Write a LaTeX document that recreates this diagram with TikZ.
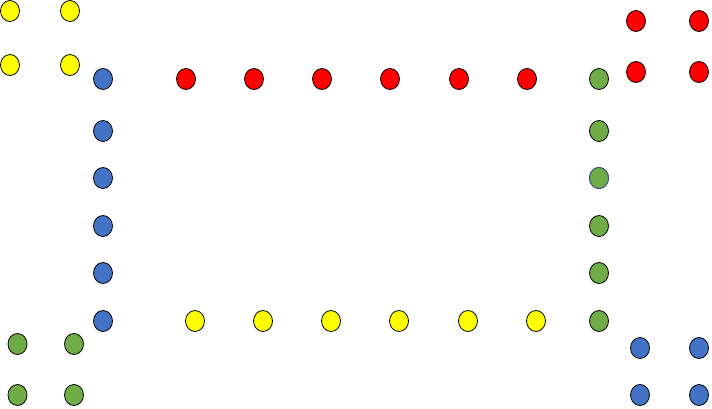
\documentclass[tikz,border=0pt]{standalone}
\usetikzlibrary{shapes.geometric}
\definecolor{cblue}{HTML}{4472C4}
\definecolor{cred}{HTML}{FF0000}
\definecolor{cyellow}{HTML}{FFFF00}
\definecolor{cgreen}{HTML}{70AD47}
\definecolor{cedge}{HTML}{2F528F}
\tikzset{
  dot/.style={ellipse, draw=black, line width=0.8pt, minimum width=19pt, minimum height=21pt, inner sep=0pt},
  bdot/.style={dot, fill=cblue},
  rdot/.style={dot, fill=cred},
  ydot/.style={dot, fill=cyellow},
  gdot/.style={dot, fill=cgreen},
}
\begin{document}
\begin{tikzpicture}[x=1pt,y=-1pt]
\useasboundingbox (0,0) rectangle (712,408);
% top-left yellow
\node[ydot] (y1) at (10,11) {};
\node[ydot] (y2) at (70,11) {};
\node[ydot] (y3) at (10,65) {};
\node[ydot] (y4) at (70,65) {};
% top-right red
\node[rdot] (r1) at (636,21) {};
\node[rdot] (r2) at (699,21) {};
\node[rdot] (r3) at (636,72) {};
\node[rdot] (r4) at (699,72) {};
% bottom-left green
\node[gdot] (g1) at (17.5,344) {};
\node[gdot] (g2) at (74,344) {};
\node[gdot] (g3) at (17.5,395) {};
\node[gdot] (g4) at (74,395) {};
% bottom-right blue
\node[bdot] (b1) at (640,348) {};
\node[bdot] (b2) at (699,348) {};
\node[bdot] (b3) at (640,395) {};
\node[bdot] (b4) at (699,395) {};
% left blue column
\foreach \y [count=\i] in {79,131,178,226,273,321}
  \node[bdot] (lb\i) at (103,\y) {};
% right green column
\foreach \y [count=\i] in {79,131,178,226,273,321}
  \node[gdot] (rg\i) at (599,\y) {};
\node[gdot, draw=cedge] at (rg3) {};
% top red row
\foreach \x [count=\i] in {186,254,322,390,459,527}
  \node[rdot] (tr\i) at (\x,79) {};
% bottom yellow row
\foreach \x [count=\i] in {195,263,331,399,468,536}
  \node[ydot] (by\i) at (\x,321) {};
\end{tikzpicture}
\end{document}
